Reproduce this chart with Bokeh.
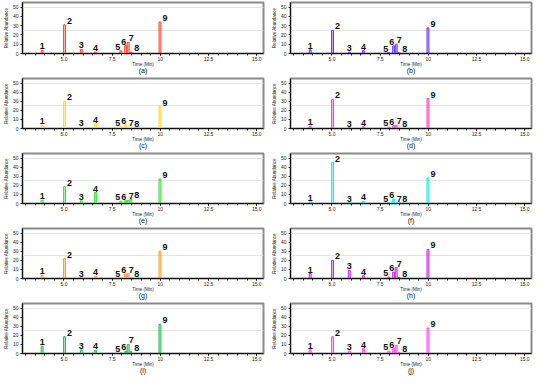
from bokeh.plotting import figure
from bokeh.layouts import gridplot
from bokeh.models import ColumnDataSource, Range1d, FixedTicker, LinearAxis
from bokeh.embed import file_html
from bokeh.resources import INLINE
from bokeh.core.properties import value

# ---- data ----
retention_times = [3.87, 5.03, 5.90, 6.63, 7.95, 8.20, 8.33, 8.47, 9.98]
peak_labels = ["1", "2", "3", "4", "5", "6", "7", "8", "9"]
panel_names = ["(a)", "(b)", "(c)", "(d)", "(e)", "(f)", "(g)", "(h)", "(i)", "(j)"]
x_tick_values = [5.0, 7.5, 10.0, 12.5, 15.0]
x_tick_labels = ["5.0", "7.5", "10", "12.5", "15.0"]
y_tick_values = [0, 10, 20, 30, 40, 50]

heights_a = [3.5, 31, 4.5, 1.5, 3, 8.5, 12, 1.5, 34]
heights_b = [4, 25, 1.5, 3, 1, 8, 10, 0.7, 27.5]
heights_c = [3.5, 30, 1.5, 5.5, 2, 4, 1.5, 1, 24]
heights_d = [2.5, 32, 1, 2, 1.5, 3, 3.5, 0.5, 33]
heights_e = [3.5, 18.5, 3, 12, 2.5, 3, 3.5, 5, 27]
heights_f = [2, 45, 1, 2.5, 1, 5, 0.5, 1, 28]
heights_g = [3.5, 22, 1, 2.5, 0.5, 5, 5.5, 0.5, 30]
heights_h = [5.5, 20, 9, 3, 1.5, 7, 12, 1, 32]
heights_i = [8, 18.5, 4, 3.5, 0.5, 2.5, 10, 2, 32]
heights_j = [4, 18.5, 2.5, 5.5, 2.5, 5.5, 9, 1, 28]

all_heights = [heights_a, heights_b, heights_c, heights_d, heights_e,
               heights_f, heights_g, heights_h, heights_i, heights_j]

# ---- styles ----
colors = ["#ff4433", "#6633ff", "#ffd822", "#ff3fc8", "#33e033",
          "#11e8ff", "#ff9a22", "#cc22ee", "#22bb55", "#ff44ee"]
label_dx = [0, 5, 0, 0, -3, -2, 3, 6, 5]
FONT = "Liberation Sans"

figs = []
for i, (hts, col, name) in enumerate(zip(all_heights, colors, panel_names)):
    right_col = (i % 2 == 1)
    row_idx = i // 2
    w = 266 if right_col else 268
    h = 76 if row_idx == 0 else 75
    p = figure(width=w, height=h, output_backend="svg", toolbar_location=None,
               x_range=Range1d(2.85, 15.35), y_range=Range1d(0, 55),
               min_border_left=21, min_border_right=3 if right_col else 5,
               min_border_top=2, min_border_bottom=10)
    p.background_fill_color = "white"
    p.border_fill_color = "white"
    p.outline_line_color = "#8a8a8a"
    p.outline_line_width = 2

    src = ColumnDataSource(dict(x=retention_times, top=hts, lab=peak_labels,
                                dx=label_dx))
    p.vbar(x="x", top="top", bottom=0, width=0.1, source=src,
           fill_color=col, fill_alpha=0.35, line_color=col, line_width=1)
    p.text(x="x", y="top", text="lab", source=src, x_offset="dx", y_offset=-1,
           text_align="center", text_baseline="bottom",
           text_font=value(FONT), text_font_size="9px", text_font_style="bold",
           text_color="#111111")

    # axes
    p.xaxis.ticker = FixedTicker(ticks=x_tick_values,
                                 minor_ticks=[v / 2 for v in range(6, 31)])
    p.xaxis.major_label_overrides = {v: s for v, s in zip(x_tick_values, x_tick_labels)}
    p.yaxis.ticker = FixedTicker(ticks=y_tick_values)
    p.xaxis.axis_label = "Time (Min)"
    p.yaxis.axis_label = "Relative Abundance"
    for ax in (p.xaxis[0], p.yaxis[0]):
        ax.major_label_text_font = FONT
        ax.major_label_text_font_size = "5px"
        ax.major_label_text_color = "#222222"
        ax.axis_label_text_font = FONT
        ax.axis_label_text_font_size = "4.5px"
        ax.axis_label_text_font_style = "normal"
        ax.axis_label_text_color = "#222222"
        ax.major_label_standoff = 2
        ax.major_tick_out = 2
        ax.major_tick_in = 0
        ax.minor_tick_out = 2
        ax.minor_tick_in = 0
        ax.axis_line_color = "#111111"
        ax.major_tick_line_color = "#111111"
        ax.minor_tick_line_color = "#111111"
    p.xaxis.major_label_standoff = 1
    p.xaxis.axis_label_standoff = -2
    p.yaxis.axis_label_standoff = 1
    p.yaxis.minor_tick_line_color = None
    p.xgrid.grid_line_color = None
    p.ygrid.ticker = FixedTicker(ticks=[25, 50])
    p.ygrid.grid_line_color = "#e4e4e4"
    p.ygrid.grid_line_width = 1

    # panel caption as an extra, tick-less axis below
    cap = LinearAxis(axis_label=name, ticker=FixedTicker(ticks=[]),
                     axis_line_color=None, major_tick_line_color=None,
                     minor_tick_line_color=None, major_label_text_font_size="0px",
                     major_label_standoff=0, major_tick_out=0, minor_tick_out=0,
                     axis_label_standoff=-3, axis_label_text_font=FONT,
                     axis_label_text_font_size="7px",
                     axis_label_text_font_style="normal",
                     axis_label_text_color="#111111")
    p.add_layout(cap, "below")
    figs.append(p)

grid = gridplot([figs[k:k + 2] for k in range(0, 10, 2)], toolbar_location=None)

open("out.html", "w").write(file_html(grid, INLINE))
